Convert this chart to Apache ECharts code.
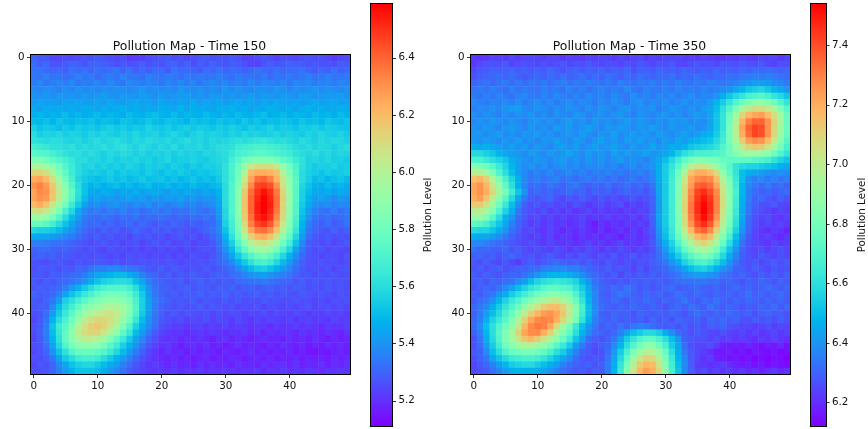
<!DOCTYPE html>
<html><head><meta charset="utf-8">
<style>html,body{margin:0;padding:0;background:#fff}#c{width:868px;height:429px}</style>
<script src="https://cdn.jsdelivr.net/npm/echarts@6/dist/echarts.min.js"></script>
</head><body><div id="c"></div>
<script>
const titles = ['Pollution Map - Time 150', 'Pollution Map - Time 350'];
const barName = 'Pollution Level';
const ticks150 = [5.2, 5.4, 5.6, 5.8, 6.0, 6.2, 6.4];
const ticks350 = [6.2, 6.4, 6.6, 6.8, 7.0, 7.2, 7.4];
const range150 = [5.11, 6.59];
const range350 = [6.12, 7.54];
const base150 = 5;  // cells below are hundredths above this level
const base350 = 6;
const heat150 = [
[30,28,27,24,24,25,24,25,27,26,28,27,25,24,26,22,23,22,25,26,27,28,25,27,24,25,27,28,25,27,26,28,26,23,24,25,27,25,23,26,25,24,26,27,25,26,24,22,24,25],
[32,29,31,27,27,28,30,29,27,30,30,29,28,26,28,26,27,29,26,28,26,29,30,27,30,26,29,27,30,28,27,29,28,26,24,23,27,29,27,28,30,29,28,27,28,26,27,25,29,28],
[33,33,31,30,31,29,33,31,33,30,33,31,32,34,30,33,29,31,29,32,31,28,33,31,31,30,28,32,30,33,30,32,31,29,31,33,31,30,33,31,31,32,33,30,28,31,29,33,29,31],
[34,33,36,33,34,32,33,36,34,35,31,34,35,33,37,34,34,32,36,34,33,35,34,32,35,33,35,33,34,36,34,32,35,33,34,32,35,31,34,33,35,33,34,36,33,34,36,33,34,35],
[35,37,34,36,37,35,38,34,36,35,37,35,38,35,34,38,36,35,37,36,34,37,35,38,35,37,34,36,38,36,37,35,36,34,38,35,37,36,35,37,34,37,36,38,35,36,37,35,37,36],
[38,37,39,38,36,39,37,40,38,39,37,39,38,40,39,37,39,41,38,40,38,39,37,41,39,38,40,37,39,38,41,38,40,38,37,40,39,38,41,39,37,40,38,39,41,38,40,39,38,40],
[40,39,41,39,42,40,41,39,42,40,41,43,40,39,42,41,40,43,41,39,42,40,41,42,43,40,41,39,42,41,40,42,39,41,43,40,42,41,40,42,41,39,43,42,40,41,42,41,43,40],
[42,44,42,43,41,44,43,45,42,43,44,42,45,43,42,44,46,43,44,42,45,43,42,44,43,46,42,44,43,45,42,44,46,43,44,42,45,43,46,44,43,45,42,44,46,43,44,45,43,44],
[45,43,46,45,47,44,46,44,47,46,44,47,45,46,48,45,47,44,46,45,47,46,44,48,45,47,46,45,44,47,46,48,45,47,44,46,45,48,46,45,47,44,46,48,45,47,45,46,47,46],
[47,49,46,48,47,50,47,49,46,48,50,47,49,48,46,50,48,47,49,51,48,47,50,46,49,48,47,50,48,46,49,47,50,48,47,49,51,47,48,50,47,49,48,46,50,48,49,47,50,48],
[50,49,51,48,52,50,49,51,50,52,49,51,50,48,52,51,49,50,53,50,49,52,51,50,48,52,50,51,49,52,50,51,49,53,50,52,49,51,50,52,51,49,52,50,51,49,53,51,50,52],
[56,52,54,53,51,54,52,55,53,54,52,54,56,53,55,52,54,53,57,54,53,55,52,54,56,53,55,54,52,55,53,56,54,52,55,53,54,57,53,55,54,52,55,54,56,53,55,54,53,52],
[60,55,57,56,58,55,57,56,54,57,55,58,56,54,57,55,58,55,56,57,54,56,58,55,53,56,58,55,57,56,54,57,55,58,56,57,55,56,58,55,57,56,54,57,55,58,56,55,57,54],
[62,61,59,61,60,58,57,59,56,58,60,57,59,61,58,56,59,57,60,58,57,59,56,58,60,57,58,56,59,57,58,60,62,60,62,63,64,62,60,61,59,57,60,58,56,59,57,59,58,56],
[68,66,64,62,62,60,62,58,60,58,59,61,58,60,62,59,57,60,58,56,59,57,60,56,58,57,59,56,58,60,60,62,66,67,68,70,70,68,67,65,63,60,58,60,57,59,58,56,58,60],
[74,73,72,68,65,62,60,61,58,60,58,56,59,57,60,58,56,58,55,57,56,58,55,58,56,57,55,58,57,59,60,64,68,70,72,74,74,72,70,68,66,62,60,58,60,57,59,56,58,57],
[84,84,80,76,72,68,64,60,60,57,58,56,58,55,57,56,58,55,57,54,56,58,54,56,55,57,55,54,57,58,60,68,74,80,84,86,86,86,82,76,72,66,62,57,58,56,58,55,56,54],
[98,98,94,88,80,72,66,60,57,58,55,57,54,56,54,57,55,53,56,54,55,53,56,54,52,55,53,56,55,57,62,70,78,92,106,110,110,110,106,92,80,70,62,57,54,56,55,57,54,55],
[112,112,108,98,86,76,66,60,56,54,55,53,56,52,55,53,54,52,55,53,51,54,52,55,53,51,53,52,54,56,62,70,80,98,120,124,124,122,118,100,84,72,60,56,54,52,55,53,54,56],
[124,126,120,108,94,80,68,58,54,52,50,52,54,51,53,50,52,54,51,52,53,50,52,49,51,53,50,52,50,54,62,70,82,104,126,138,140,134,122,106,88,74,60,55,50,52,49,51,53,50],
[130,134,128,116,100,86,72,60,52,48,50,47,49,51,48,50,47,49,51,47,48,50,46,49,47,50,48,46,49,51,60,72,84,110,132,146,148,144,130,108,90,74,58,52,48,46,50,47,49,46],
[126,132,130,118,104,90,76,62,52,46,44,47,45,43,46,44,47,43,45,46,44,42,45,43,46,44,42,45,43,48,60,72,88,116,138,150,156,150,136,112,92,74,56,50,46,44,47,43,46,44],
[126,130,128,116,102,88,74,60,50,42,44,41,43,40,42,44,41,43,39,42,40,43,41,44,40,42,39,41,40,46,60,72,88,118,140,152,159,152,138,114,92,74,56,48,42,44,41,38,42,40],
[120,124,118,106,94,80,66,54,44,38,40,37,39,41,38,36,39,37,40,36,38,35,37,39,36,38,35,37,39,44,60,72,88,118,140,154,159,154,138,112,92,72,54,46,40,37,39,36,38,37],
[108,110,106,96,84,70,58,46,38,35,36,33,36,34,37,33,35,32,34,36,33,35,32,34,33,36,34,32,35,42,58,72,88,118,140,154,159,152,136,112,90,72,52,43,36,34,33,36,32,35],
[92,94,90,82,72,60,50,42,35,33,31,34,32,30,33,31,34,30,32,31,33,31,29,32,30,33,31,34,32,40,58,70,86,116,138,152,156,150,132,110,88,70,50,40,34,31,33,30,32,34],
[78,78,74,68,60,52,44,38,33,31,32,29,31,28,30,32,28,31,29,27,30,28,31,29,27,30,28,30,31,38,56,68,84,110,134,146,150,142,126,106,86,68,48,36,31,29,32,28,30,33],
[58,56,56,54,50,44,40,35,31,29,27,30,27,29,26,28,31,28,26,29,27,29,26,28,27,25,28,30,33,38,52,66,82,106,126,136,138,132,118,100,82,64,46,34,30,28,27,30,27,29],
[45,44,44,42,40,37,35,32,29,27,29,26,28,25,27,24,28,26,28,25,27,24,26,28,25,27,24,27,30,35,48,62,78,96,112,122,124,118,106,90,76,58,42,32,28,26,28,25,27,26],
[36,36,35,34,33,32,30,28,27,25,27,28,25,27,24,26,27,24,26,28,25,27,24,25,27,24,26,25,28,33,44,56,72,86,100,106,108,104,94,80,68,52,38,29,27,25,27,24,26,28],
[30,31,32,30,29,30,28,27,25,27,25,24,27,25,26,24,26,23,25,24,26,24,25,23,26,24,26,27,26,32,40,50,64,76,88,94,96,90,82,70,58,44,34,28,25,27,24,26,25,24],
[28,30,28,30,27,28,27,25,27,25,27,26,24,26,24,27,25,26,24,26,24,26,23,25,24,27,25,24,27,30,36,44,54,64,72,78,80,76,68,58,48,38,31,27,26,24,26,25,24,27],
[27,26,25,27,28,26,25,28,26,27,28,27,26,28,25,27,25,27,26,27,25,27,26,24,26,25,27,26,28,30,33,38,46,54,62,68,70,66,58,50,42,34,29,26,25,27,25,26,24,25],
[26,28,27,28,26,28,27,30,30,34,36,36,37,38,36,34,33,30,28,27,29,26,28,27,25,27,26,28,26,28,30,33,38,44,50,54,56,52,48,42,37,32,28,26,27,25,27,24,26,27],
[27,28,26,29,28,30,31,32,35,40,44,46,48,50,50,46,42,36,32,30,27,29,26,28,27,29,27,26,28,30,29,32,33,37,40,42,43,40,38,36,33,30,27,28,25,27,26,27,25,26],
[28,26,29,27,30,31,33,36,40,46,52,56,58,60,60,58,50,44,36,32,30,28,27,29,26,28,30,27,29,27,29,28,31,32,33,34,35,33,32,30,30,27,29,26,28,26,28,25,27,26],
[27,29,28,30,31,36,42,48,54,60,66,70,72,72,72,68,60,50,40,33,30,29,27,28,30,27,29,28,27,29,28,30,27,29,30,28,29,30,28,29,27,29,28,26,27,25,28,26,27,25],
[30,28,29,31,36,44,52,58,64,70,76,80,82,82,80,76,66,54,42,34,30,28,29,27,29,28,30,27,29,28,30,27,29,27,28,30,27,29,26,28,27,26,28,27,25,27,26,24,27,26],
[28,27,30,34,42,56,62,68,74,80,84,88,90,90,88,82,70,56,44,36,32,29,27,28,27,29,26,28,27,26,28,26,28,25,27,25,28,26,27,25,26,27,25,26,24,26,24,26,25,27],
[27,29,29,38,50,60,68,76,84,88,92,96,98,98,94,86,72,56,44,35,30,28,26,28,26,27,29,26,28,27,25,27,24,26,25,27,24,26,25,24,26,24,25,27,24,25,26,24,26,24],
[26,27,32,42,54,64,74,84,92,98,102,106,108,104,96,84,70,54,42,34,29,26,28,25,27,26,25,27,24,26,24,26,25,23,25,24,26,23,25,24,23,25,24,22,24,23,25,23,24,22],
[24,28,34,48,60,70,80,92,102,108,112,112,108,102,92,80,64,50,40,33,28,26,24,26,23,25,24,26,23,25,24,22,25,23,21,24,22,24,23,22,24,21,23,24,22,23,21,24,22,23],
[26,28,36,52,66,74,86,100,108,114,117,112,106,96,84,72,56,46,38,32,26,24,22,23,21,23,24,21,23,22,24,21,23,22,20,22,21,19,22,20,21,23,20,22,21,19,22,20,21,23],
[25,29,36,50,64,76,90,102,110,112,112,106,98,88,76,64,50,42,34,28,24,22,20,21,19,21,22,20,22,21,19,21,20,22,19,21,18,20,19,21,20,18,21,19,20,18,20,19,17,20],
[24,28,35,48,62,76,88,98,102,104,100,94,86,76,66,54,44,38,30,26,22,20,21,18,20,19,21,19,17,20,21,18,20,19,17,19,20,18,19,17,20,18,19,17,20,18,16,19,17,18],
[26,27,33,44,58,72,82,88,90,90,88,82,74,66,56,48,40,33,27,24,20,22,19,16,19,20,18,20,17,19,16,18,20,17,19,18,16,19,17,20,18,17,19,16,18,16,19,17,19,17],
[24,27,30,40,52,62,72,78,78,78,76,72,66,58,50,42,35,29,24,21,18,20,18,19,16,19,17,19,18,16,19,17,16,18,20,17,19,16,18,17,19,16,18,15,14,16,15,17,18,16],
[26,25,28,34,44,54,60,66,68,68,66,60,54,48,42,36,30,26,23,20,19,17,19,17,18,16,18,19,16,18,17,19,18,16,18,19,17,19,16,18,17,19,16,18,17,18,16,19,17,19],
[24,27,26,30,38,44,52,56,58,58,54,50,46,42,36,31,27,24,21,23,20,18,20,18,19,17,20,18,20,18,19,17,20,18,19,17,20,18,19,20,18,20,17,19,18,20,17,19,18,20],
[25,26,27,30,36,42,48,52,52,52,50,46,42,38,33,28,25,24,22,21,22,20,22,19,21,20,22,19,21,20,22,20,19,21,20,22,19,21,20,22,20,21,19,22,20,19,21,20,22,21]
];
const heat350 = [
[22,21,22,24,24,22,25,22,24,25,24,23,25,24,22,24,23,22,25,23,25,24,22,25,23,24,25,22,24,23,25,24,25,23,24,22,24,23,22,21,23,22,24,23,22,25,24,25,22,24],
[22,25,27,27,26,28,24,26,27,26,25,27,25,26,28,25,27,26,28,26,25,27,26,24,27,25,28,26,25,27,26,28,25,24,26,28,26,27,25,28,27,26,28,27,26,28,25,23,27,26],
[25,28,28,30,30,29,31,28,30,28,30,28,31,29,27,29,31,28,30,29,31,28,30,29,31,27,29,30,28,31,29,30,28,31,29,28,30,28,31,29,30,29,31,30,32,31,32,31,29,31],
[27,29,30,31,32,30,32,30,28,30,31,29,32,30,33,30,31,33,30,32,30,33,31,29,32,30,33,31,30,32,31,33,30,32,31,33,31,30,32,31,33,32,34,35,36,35,36,34,33,32],
[30,32,33,31,33,35,32,34,32,34,33,35,32,34,36,33,35,33,36,34,33,35,32,36,34,33,35,34,36,33,35,33,36,34,33,35,34,36,35,34,35,36,38,40,42,42,41,38,37,35],
[33,35,33,36,34,32,36,33,35,34,33,36,34,35,33,37,34,36,33,35,37,34,36,34,38,35,33,37,35,34,36,34,37,35,36,34,37,35,36,38,40,44,48,52,54,56,52,48,44,40],
[35,33,36,34,37,35,33,36,38,35,34,37,35,38,36,34,37,35,38,36,37,35,38,36,34,39,36,37,35,38,36,38,35,37,39,36,38,37,40,46,52,58,62,68,70,72,68,62,58,52],
[38,36,35,37,36,38,36,39,35,37,39,36,38,35,37,39,36,38,37,35,38,36,39,37,35,38,40,36,38,37,39,36,38,40,37,39,38,42,48,54,62,70,78,84,86,88,84,78,70,62],
[36,38,37,39,37,40,42,42,38,37,40,38,36,39,37,40,38,36,39,37,40,38,36,39,41,37,39,38,40,36,38,41,39,37,40,38,42,44,50,60,70,82,94,102,106,106,102,94,82,72],
[39,37,40,38,36,39,37,40,38,41,37,39,36,40,38,37,41,39,36,38,40,37,39,41,38,36,40,38,37,39,41,38,40,37,39,42,40,44,52,62,76,92,108,118,122,124,116,106,92,76],
[37,40,38,41,39,37,40,38,36,39,41,38,40,37,39,42,38,40,37,41,38,40,37,39,42,38,41,39,37,40,38,42,39,41,38,40,38,44,52,62,78,98,118,130,136,136,126,110,94,76],
[40,38,41,39,37,40,42,39,37,41,38,40,37,42,39,41,38,40,43,39,37,41,39,42,40,38,41,39,43,40,38,41,39,40,42,38,40,44,52,62,80,100,122,136,142,140,126,108,92,78],
[39,41,38,40,42,38,40,37,41,39,42,38,40,37,39,41,38,42,39,37,41,39,43,38,40,42,39,41,38,42,40,38,41,43,40,42,46,48,54,64,80,100,120,134,142,140,126,108,90,76],
[41,39,42,40,38,41,39,42,38,40,37,41,39,43,40,38,42,40,37,41,43,39,41,38,42,40,43,39,41,38,42,40,44,42,46,48,50,52,58,66,80,96,112,124,128,126,116,102,86,72],
[46,44,47,44,42,40,43,39,42,38,41,39,37,41,43,39,42,38,40,43,39,41,43,40,38,42,39,41,44,40,42,46,44,48,52,54,56,58,62,70,78,90,102,110,114,112,104,92,80,68],
[58,58,55,52,48,44,42,41,38,42,40,38,42,39,41,44,40,38,42,39,41,38,43,40,42,39,41,43,40,42,44,48,54,60,64,68,68,68,70,72,78,84,90,92,92,90,86,78,70,62],
[68,68,64,60,56,52,46,42,40,38,41,39,37,40,42,38,40,37,41,38,40,37,39,42,38,40,38,36,41,44,50,58,66,74,80,84,84,82,80,76,74,74,74,74,72,70,68,62,56,52],
[84,82,78,72,64,56,48,42,38,40,37,39,36,38,40,37,39,36,38,37,39,36,38,35,37,39,36,38,40,46,54,62,72,84,98,104,104,100,90,80,72,62,58,56,56,54,52,50,46,44],
[100,98,92,82,70,60,50,42,38,35,37,35,38,34,36,38,35,37,34,36,35,37,34,36,33,35,37,34,38,46,54,64,78,96,114,120,120,116,106,90,74,62,50,46,44,42,40,38,40,38],
[114,118,110,96,82,68,56,46,38,34,36,33,35,37,33,35,32,34,36,33,35,32,34,31,33,35,32,34,37,46,54,66,80,102,122,128,130,128,116,96,80,64,50,40,36,38,35,37,34,36],
[122,126,118,104,90,74,60,46,37,32,33,31,34,32,30,33,35,31,29,32,30,33,29,31,33,30,32,29,34,44,54,66,82,106,124,136,138,134,122,102,84,66,48,38,34,32,35,31,33,30],
[122,126,120,108,94,80,66,52,40,30,32,29,31,28,30,32,29,31,27,30,28,30,27,29,31,28,30,27,32,44,54,66,82,108,128,142,146,140,128,104,86,68,48,36,32,29,31,28,30,32],
[120,124,114,100,86,72,58,44,34,29,27,29,31,27,25,28,26,29,27,25,28,25,27,24,26,28,25,27,30,42,54,66,84,108,130,144,150,144,130,106,86,66,46,36,30,32,28,26,29,27],
[112,112,104,92,78,64,50,38,30,26,28,25,27,24,26,23,27,25,22,24,26,23,25,27,22,25,23,25,30,42,54,66,84,110,132,146,153,146,130,106,86,66,46,34,30,27,26,28,25,24],
[100,100,94,84,70,56,46,34,28,26,24,27,23,25,22,24,21,23,25,22,24,22,23,21,24,22,25,24,30,42,54,66,84,110,132,146,154,146,130,104,84,64,44,34,28,26,24,22,25,23],
[90,90,82,72,60,48,40,32,28,24,26,23,25,22,24,21,23,25,21,23,22,24,21,23,22,24,21,25,30,44,54,66,82,108,130,144,152,144,126,102,82,62,44,32,27,24,26,23,21,24],
[74,72,68,60,52,44,36,30,26,23,25,22,24,21,23,20,22,24,20,17,21,19,22,20,23,21,24,22,29,42,54,66,82,106,126,140,146,138,120,98,80,60,42,31,26,23,25,22,24,22],
[58,56,56,52,46,40,33,29,24,26,23,21,24,22,19,22,20,23,20,18,21,18,20,22,19,23,20,24,28,40,52,64,80,100,118,132,136,128,110,92,74,56,40,30,25,22,20,23,21,18],
[46,44,44,42,38,34,30,27,25,23,25,22,24,20,23,21,19,22,20,22,19,22,20,18,21,23,20,23,27,38,50,62,76,92,106,118,122,116,100,84,68,50,36,28,24,22,24,21,19,22],
[38,38,36,34,32,30,28,26,24,26,24,22,25,23,21,23,20,22,24,21,23,20,22,24,21,23,21,24,28,36,46,56,70,84,96,106,110,104,92,76,60,46,33,27,25,23,21,24,22,23],
[33,31,31,30,29,31,27,29,26,24,27,25,23,26,24,22,25,23,26,24,22,25,23,26,24,22,25,23,27,33,42,52,62,74,84,92,96,90,80,66,52,40,31,26,24,26,23,25,27,24],
[29,31,28,30,27,29,31,28,26,28,25,27,29,26,24,27,25,28,26,24,27,25,28,24,26,28,25,27,28,32,38,46,54,64,72,78,82,78,70,58,46,36,29,27,25,28,26,24,27,25],
[28,26,29,27,25,28,25,22,27,29,26,28,30,32,30,28,30,27,29,27,25,28,26,24,27,25,27,26,29,31,34,40,46,56,62,68,70,66,58,50,40,33,28,26,28,25,27,29,26,28],
[27,29,26,28,30,26,28,30,30,32,32,36,36,37,38,36,36,33,31,29,27,29,26,28,27,24,28,25,28,30,31,35,38,44,50,54,56,52,46,40,36,30,29,27,29,27,25,28,26,27],
[29,27,30,28,26,29,31,30,33,36,40,44,48,48,48,46,42,38,34,31,29,27,29,25,28,26,29,27,30,28,30,32,34,38,40,42,42,40,38,34,32,29,31,28,26,29,27,29,27,30],
[28,30,27,31,30,32,33,38,42,50,56,60,62,64,62,60,56,48,40,33,30,28,26,29,27,30,28,30,28,30,28,30,32,33,33,34,34,32,33,30,31,29,27,30,28,31,29,27,30,28],
[27,29,31,30,33,38,44,50,56,62,66,72,74,74,72,70,62,54,44,36,31,29,32,30,34,31,28,30,27,29,31,32,28,30,31,32,30,29,31,28,30,32,29,31,28,30,32,30,28,31],
[30,28,32,34,40,46,54,60,66,72,78,82,86,86,84,80,70,58,46,37,30,28,31,34,32,30,28,31,29,31,28,30,33,31,29,32,30,28,31,29,31,28,30,33,29,31,28,30,32,29],
[28,32,34,40,48,56,64,70,78,84,90,96,100,102,96,88,76,62,48,37,31,29,32,30,28,31,29,32,30,28,31,29,31,34,30,28,32,30,33,30,28,31,29,31,30,28,31,29,31,28],
[31,34,38,46,54,62,70,78,88,96,104,112,116,116,110,100,84,68,50,38,32,30,28,31,29,32,30,28,31,29,27,30,32,29,33,31,29,34,31,28,31,29,27,30,28,31,29,32,28,31],
[29,35,42,50,58,68,76,88,100,110,118,124,126,122,114,100,84,66,50,38,30,28,31,29,30,27,31,29,28,30,28,31,29,27,30,33,30,28,31,29,32,30,28,30,27,29,31,28,29,27],
[31,36,46,56,64,72,84,96,110,122,128,130,128,120,108,96,80,62,48,36,31,29,31,28,30,28,30,27,31,28,30,27,31,29,28,30,27,31,29,32,28,30,27,26,29,27,28,26,29,27],
[31,38,50,60,70,78,88,102,118,128,132,130,122,106,92,80,64,50,40,34,28,31,29,33,30,34,36,35,32,30,28,30,27,30,27,29,26,29,28,31,27,26,24,25,23,24,26,23,25,24],
[29,36,48,60,72,82,94,110,122,128,128,120,110,96,84,74,60,48,38,32,30,28,31,36,42,50,54,58,58,54,46,38,32,29,26,29,27,25,24,27,24,23,25,22,24,21,23,25,22,24],
[27,34,46,58,70,82,92,104,114,118,112,104,96,86,76,66,52,42,32,29,27,30,34,42,54,62,70,74,74,68,60,50,40,30,28,26,27,24,26,23,24,21,23,22,20,23,21,24,22,20],
[26,32,42,54,66,78,86,92,96,96,92,88,80,72,64,54,42,35,29,26,29,31,38,48,60,70,80,86,86,78,68,54,44,32,27,25,24,26,22,18,17,18,16,19,17,15,18,16,19,15],
[28,30,38,50,60,70,76,78,80,80,78,74,68,60,54,44,36,30,28,25,27,32,42,54,68,82,92,98,97,90,76,60,46,34,28,25,23,20,17,16,18,15,17,14,17,15,14,16,13,15],
[26,30,34,44,52,58,64,66,68,68,66,62,56,50,44,38,32,28,26,28,27,34,44,58,74,90,104,110,108,98,80,64,48,37,28,24,21,23,18,17,15,17,14,16,13,15,13,15,14,12],
[24,28,31,36,42,48,54,56,58,58,54,50,46,42,36,32,30,28,30,27,29,36,46,62,80,98,112,118,116,104,84,66,50,38,29,23,22,20,21,23,20,18,16,18,15,17,14,16,15,14],
[25,27,28,33,37,42,46,48,48,48,46,44,40,36,33,30,28,29,27,29,28,36,48,64,84,102,118,124,120,108,88,68,52,38,30,24,26,22,24,21,23,20,22,19,21,18,20,22,19,21]
];

// matplotlib 'rainbow' colour ramp
function rainbow(t){
  const r=Math.min(1,Math.abs(2*t-0.5)), g=Math.sin(Math.PI*t), b=Math.cos(Math.PI*t/2);
  return 'rgb('+[r,g,b].map(v=>Math.round(v*255)).join(',')+')';
}
const ramp=[]; for(let i=0;i<=64;i++) ramp.push(rainbow(i/64));
const stops=ramp.map((c,i)=>({offset:1-i/64,color:c}));

const idx=Array.from({length:50},(_,i)=>String(i));
const cells=(rows,base)=>rows.flatMap((row,y)=>row.map((v,x)=>[x,y,+(base+v/100).toFixed(2)]));
const black='#000';
const line={show:true,onZero:false,lineStyle:{color:black,width:1}};
const font={fontFamily:'DejaVu Sans',fontSize:10.3,color:'#111'};

const panels=[
 {left:30.5,bar:370.5,rows:heat150,base:base150,range:range150,ticks:ticks150,title:titles[0]},
 {left:470.5,bar:810.5,rows:heat350,base:base350,range:range350,ticks:ticks350,title:titles[1]}
];
const T=54.5,S=320,BT=3.5,BH=423,BW=22;
const grid=[],xAxis=[],yAxis=[],series=[],visualMap=[],title=[];
panels.forEach((p,i)=>{
  const g0=grid.length;
  grid.push({left:p.left,top:T,width:S,height:S,show:false});
  grid.push({left:p.bar,top:BT,width:BW,height:BH,show:false});
  title.push({text:p.title,left:p.left+S/2-6,top:36,textAlign:'center',textStyle:{fontFamily:'DejaVu Sans',fontSize:12.4,fontWeight:'normal',color:'#111'}});
  const a=xAxis.length;
  xAxis.push({gridIndex:g0,type:'category',data:idx,position:'bottom',z:5,axisLine:line,
    axisTick:{show:true,interval:9,alignWithLabel:true,length:3.5,lineStyle:{color:black,width:0.8}},
    axisLabel:{...font,interval:9,margin:7},splitLine:{show:false},splitArea:{show:false}});
  xAxis.push({gridIndex:g0,type:'category',data:idx,position:'top',z:5,axisLine:line,axisTick:{show:false},axisLabel:{show:false}});
  xAxis.push({gridIndex:g0+1,type:'category',data:['bar'],position:'bottom',z:5,axisLine:line,axisTick:{show:false},axisLabel:{show:false}});
  xAxis.push({gridIndex:g0+1,type:'category',data:['bar'],position:'top',z:5,axisLine:line,axisTick:{show:false},axisLabel:{show:false}});
  yAxis.push({gridIndex:g0,type:'category',data:idx,inverse:true,position:'left',z:5,axisLine:line,
    axisTick:{show:true,interval:9,alignWithLabel:true,length:3.5,lineStyle:{color:black,width:0.8}},
    axisLabel:{...font,interval:9,margin:6,padding:[3,0,0,0]},splitLine:{show:false},splitArea:{show:false}});
  yAxis.push({gridIndex:g0,type:'category',data:idx,inverse:true,position:'right',z:5,axisLine:line,axisTick:{show:false},axisLabel:{show:false}});
  yAxis.push({gridIndex:g0+1,type:'value',min:p.range[0],max:p.range[1],position:'right',z:5,axisLine:line,
    name:barName,nameLocation:'middle',nameRotate:90,nameGap:31,nameTextStyle:{fontFamily:'DejaVu Sans',fontSize:10.3,color:'#111'},
    axisTick:{show:true,length:3.5,customValues:p.ticks,lineStyle:{color:black,width:0.8}},
    axisLabel:{...font,margin:6,padding:[3,0,0,0],customValues:p.ticks,formatter:v=>(+v).toFixed(1)},splitLine:{show:false}});
  yAxis.push({gridIndex:g0+1,type:'value',min:p.range[0],max:p.range[1],position:'left',z:5,axisLine:line,axisTick:{show:false},axisLabel:{show:false},splitLine:{show:false}});
  const b=yAxis.length-4;
  series.push({type:'heatmap',xAxisIndex:a,yAxisIndex:b,data:cells(p.rows,p.base),progressive:0,emphasis:{disabled:true},itemStyle:{borderWidth:0}});
  visualMap.push({show:false,type:'continuous',seriesIndex:series.length-1,dimension:2,min:p.range[0],max:p.range[1],inRange:{color:ramp}});
  series.push({type:'bar',xAxisIndex:a+2,yAxisIndex:b+2,data:[p.range[1]],barWidth:'100%',silent:true,
    itemStyle:{color:new echarts.graphic.LinearGradient(0,0,0,1,stops)}});
});
const chart=echarts.init(document.getElementById('c'),null,{renderer:'canvas',width:868,height:429});
chart.setOption({animation:false,backgroundColor:'#fff',tooltip:{show:false},title,grid,xAxis,yAxis,visualMap,series});
</script></body></html>
